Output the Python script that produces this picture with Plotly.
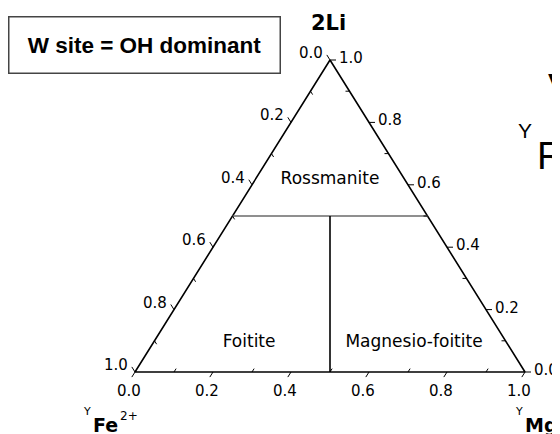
import plotly.graph_objects as go

# ---------------- data ----------------
apex_title = "2Li"
left_title = "Fe"
left_title_sup = "2+"
right_title = "Mg"
site_prefix = "Y"
box_text = "W site = OH dominant"

major_values = [0.0, 0.2, 0.4, 0.6, 0.8, 1.0]
minor_values = [0.1, 0.3, 0.5, 0.7, 0.9]

# field boundaries as compositions (Li, Fe, Mg)
horiz_li = [0.5, 0.5]
horiz_fe = [0.5, 0.0]
horiz_mg = [0.0, 0.5]
vert_li = [0.5, 0.0]
vert_fe = [0.25, 0.5]
vert_mg = [0.25, 0.5]

region_names = ["Rossmanite", "Foitite", "Magnesio-foitite"]
region_li = [0.615, 0.095, 0.093]
region_fe = [0.1925, 0.66, 0.238]
region_mg = [0.1925, 0.245, 0.669]

# corner compositions (Li, Fe, Mg)
corner_li = [1.0, 0.0, 0.0, 1.0]
corner_fe = [0.0, 1.0, 0.0, 0.0]
corner_mg = [0.0, 0.0, 1.0, 0.0]

# ---------------- layout helpers ----------------
W, H = 560, 434
OFF = 8          # page body offset of the figure in the browser window
PX_X = 390.0     # pixels per unit x
PX_Y = 312.0     # pixels per unit y
X0_WIN = 135     # window x of the Fe corner
Y0_WIN = 372     # window y of the triangle base
TICK_MAJOR = 6.0
TICK_MINOR = 4.0


def to_xy(li, fe, mg):
    s = li + fe + mg
    return (mg + li / 2.0) / s, li / s


def plen(dx, dy):
    return ((dx * PX_X) ** 2 + (dy * PX_Y) ** 2) ** 0.5


def px(xw):
    return (xw - OFF) / W


def py(yw):
    return 1 - (yw - OFF) / H


fig = go.Figure()

# triangle
tx, ty = zip(*[to_xy(a, b, c) for a, b, c in zip(corner_li, corner_fe, corner_mg)])
fig.add_trace(go.Scatter(x=list(tx), y=list(ty), mode="lines",
                         line=dict(color="black", width=1.6), hoverinfo="skip"))

# boundaries
hx, hy = zip(*[to_xy(a, b, c) for a, b, c in zip(horiz_li, horiz_fe, horiz_mg)])
fig.add_trace(go.Scatter(x=list(hx), y=list(hy), mode="lines",
                         line=dict(color="#6a6a6a", width=1.5), hoverinfo="skip"))
vx, vy = zip(*[to_xy(a, b, c) for a, b, c in zip(vert_li, vert_fe, vert_mg)])
fig.add_trace(go.Scatter(x=list(vx), y=list(vy), mode="lines",
                         line=dict(color="black", width=1.6), hoverinfo="skip"))

# ticks: each edge, direction of outward tick in cartesian units
edges = {
    "left":   (lambda v: to_xy(1 - v, v, 0.0), (-0.5, 1.0)),
    "bottom": (lambda v: to_xy(0.0, 1 - v, v), (-0.5, -1.0)),
    "right":  (lambda v: to_xy(v, 0.0, 1 - v), (1.0, 0.0)),
}

tick_x, tick_y = [], []
label_pts = {k: [] for k in edges}
for name, (pos, (dx, dy)) in edges.items():
    unit = plen(dx, dy)
    for v in major_values + minor_values:
        bx, by = pos(v)
        if v in major_values:
            t = TICK_MAJOR / unit
        else:
            t = -TICK_MINOR / unit
        ex, ey = bx + t * dx, by + t * dy
        tick_x += [bx, ex, None]
        tick_y += [by, ey, None]
        if v in major_values:
            label_pts[name].append((v, ex, ey))

fig.add_trace(go.Scatter(x=tick_x, y=tick_y, mode="lines",
                         line=dict(color="black", width=1), hoverinfo="skip"))

# region labels
rx, ry = zip(*[to_xy(a, b, c) for a, b, c in zip(region_li, region_fe, region_mg)])
fig.add_trace(go.Scatter(x=list(rx), y=list(ry), mode="text", text=region_names,
                         textposition="middle center",
                         textfont=dict(family="DejaVu Sans", size=17, color="black"),
                         hoverinfo="skip"))

annotations = []
tick_font = dict(family="DejaVu Sans", size=15, color="black")
for v, ex, ey in label_pts["left"]:
    annotations.append(dict(x=ex, y=ey, text=f"{v:.1f}", showarrow=False, xanchor="right",
                            yanchor="middle", xshift=-2, yshift=2, font=tick_font))
for v, ex, ey in label_pts["bottom"]:
    annotations.append(dict(x=ex, y=ey, text=f"{v:.1f}", showarrow=False, xanchor="center",
                            yanchor="top", xshift=-3, yshift=-3, font=tick_font))
for v, ex, ey in label_pts["right"]:
    annotations.append(dict(x=ex, y=ey, text=f"{v:.1f}", showarrow=False, xanchor="left",
                            yanchor="middle", xshift=1, yshift=2, font=tick_font))

ax_, ay_ = to_xy(1, 0, 0)
blx, bly = to_xy(0, 1, 0)
brx, bry = to_xy(0, 0, 1)
bold_font = dict(family="DejaVu Sans", size=19, color="black")
sup_font = dict(family="DejaVu Sans", size=11, color="black")
annotations += [
    dict(x=ax_, y=ay_, text=f"<b>{apex_title}</b>", showarrow=False, xanchor="center",
         yanchor="top", xshift=-2, yshift=51, font=dict(family="DejaVu Sans", size=21, color="black")),
    dict(x=blx, y=bly, text=f"<b>{left_title}</b>", showarrow=False, xanchor="right",
         yanchor="top", xshift=-15, yshift=-40, font=bold_font),
    dict(x=blx, y=bly, text=left_title_sup, showarrow=False, xanchor="left",
         yanchor="top", xshift=-17, yshift=-35, font=dict(family="DejaVu Sans", size=12, color="black")),
    dict(x=blx, y=bly, text=site_prefix, showarrow=False, xanchor="right",
         yanchor="top", xshift=-42, yshift=-31, font=sup_font),
    dict(x=brx, y=bry, text=f"<b>{right_title}</b>", showarrow=False, xanchor="left",
         yanchor="top", xshift=-2, yshift=-40, font=bold_font),
    dict(x=brx, y=bry, text=site_prefix, showarrow=False, xanchor="left",
         yanchor="top", xshift=-12, yshift=-31, font=sup_font),
    # info box
    dict(x=px(8 + 136), y=py((17 + 74) / 2), xref="paper", yref="paper",
         text=f"<b>{box_text}</b>", showarrow=False, xanchor="center", yanchor="middle",
         width=270, height=55, bordercolor="#444444", borderwidth=1.5, borderpad=0,
         font=dict(family="Liberation Sans", size=22.5, color="black")),
    # partially visible text at the right edge (from a neighbouring panel)
    dict(x=px(546), y=py(64), xref="paper", yref="paper", text="V", showarrow=False,
         xanchor="left", yanchor="top", font=dict(family="Liberation Sans", size=40, color="black")),
    dict(x=px(516), y=py(117), xref="paper", yref="paper", text="Y", showarrow=False,
         xanchor="left", yanchor="top", font=dict(family="Liberation Sans", size=21, color="black")),
    dict(x=px(535), y=py(133), xref="paper", yref="paper", text="R", showarrow=False,
         xanchor="left", yanchor="top", font=dict(family="Liberation Sans", size=38, color="black")),
]

fig.update_layout(
    width=W, height=H,
    margin=dict(l=0, r=0, t=0, b=0),
    paper_bgcolor="white", plot_bgcolor="white",
    showlegend=False,
    xaxis=dict(range=[-(X0_WIN - OFF) / PX_X, (W - X0_WIN + OFF) / PX_X],
               visible=False, domain=[0, 1], fixedrange=True),
    yaxis=dict(range=[-(H - Y0_WIN + OFF) / PX_Y, (Y0_WIN - OFF) / PX_Y],
               visible=False, domain=[0, 1], fixedrange=True),
    annotations=annotations,
)

fig.write_html("out.html")
